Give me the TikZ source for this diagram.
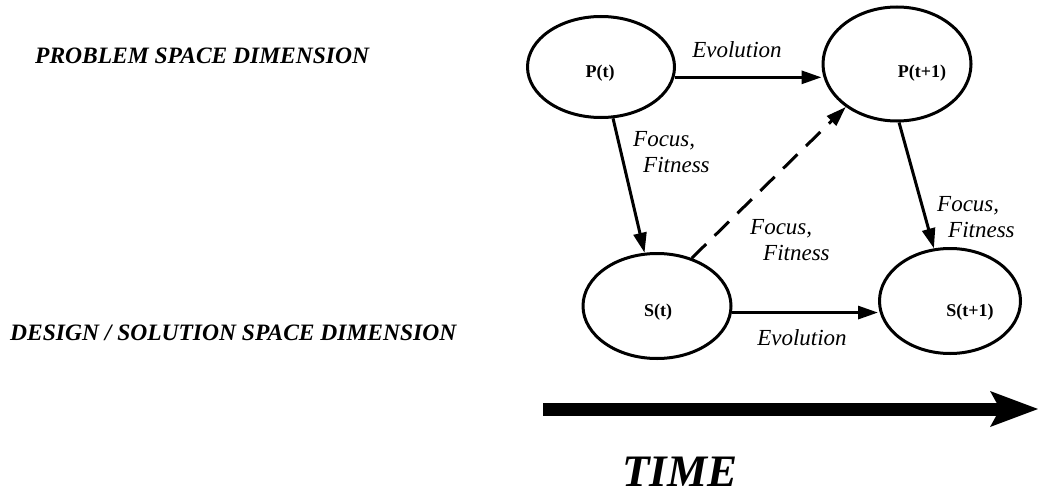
\documentclass[tikz,border=0pt]{standalone}
\usepackage{fontspec}
\setmainfont{Liberation Serif}
\usetikzlibrary{shapes.geometric,arrows.meta}
\begin{document}
\begin{tikzpicture}[x=1pt,y=-1pt,
  state/.style={ellipse,draw,line width=3pt,inner sep=0pt},
  statetext/.style={font=\fontsize{18}{20}\selectfont\bfseries,inner sep=0pt},
  edgetext/.style={font=\fontsize{23}{26}\selectfont\itshape,inner sep=0pt,align=left},
  headtext/.style={font=\fontsize{23.5}{26}\selectfont\bfseries\itshape,inner sep=0pt,anchor=west},
  flow/.style={line width=3pt,-{Triangle[length=20pt,width=13pt]}},
  hint/.style={flow,dash pattern=on 20pt off 12pt}]
\useasboundingbox (0,0) rectangle (1038,495);

% the four states
\node[state,minimum width=147pt,minimum height=101pt] (pt)  at (601,67) {};
\node[state,minimum width=148pt,minimum height=114pt] (ptt) at (897,64) {};
\node[state,minimum width=148pt,minimum height=105pt] (st)  at (657,306) {};
\node[state,minimum width=141pt,minimum height=105pt] (stt) at (950,301) {};

\node[statetext] (ptl)  at (600,73)  {P(t)};
\node[statetext] (pttl) at (922,73)  {P(t+1)};
\node[statetext] (stl)  at (658,312) {S(t)};
\node[statetext] (sttl) at (970,312) {S(t+1)};

% transitions
\draw[flow] (pt.-8) -- (pt.-8 -| ptt.west);
\draw[flow] (st.-5) -- (st.-5 -| stt.west);
\draw[flow] (pt) -- (st);
\draw[flow] (ptt.-88) -- (stt.107);
\draw[hint] (st.54) -- (ptt.-140);

% transition labels
\node[edgetext,anchor=base] (evtop) at (737,58) {Evolution};
\node[edgetext,anchor=base] (evbot) at (802,345) {Evolution};
\node[edgetext,anchor=north west] (ffl) at (633,131) {Focus,\\\hspace*{10pt}Fitness};
\node[edgetext,anchor=north west] (ffm) at (750,219) {Focus,\\\hspace*{13pt}Fitness};
\node[edgetext,anchor=north west] (ffr) at (937,196) {Focus,\\\hspace*{11pt}Fitness};

% dimension headings
\node[headtext] (prob) at (35,56)  {PROBLEM SPACE DIMENSION};
\node[headtext] (sol)  at (10,333) {DESIGN / SOLUTION SPACE DIMENSION};

% time axis
\coordinate (t0) at (543,409);
\coordinate (t1) at (1038,409);
\draw[line width=13pt,-{Stealth[length=48pt,width=36pt,inset=10pt,line width=0pt]}] (t0) -- (t1);
\node[font=\fontsize{45}{50}\selectfont\bfseries\itshape,inner sep=0pt] (time) at (680,472) {TIME};
\end{tikzpicture}
\end{document}
